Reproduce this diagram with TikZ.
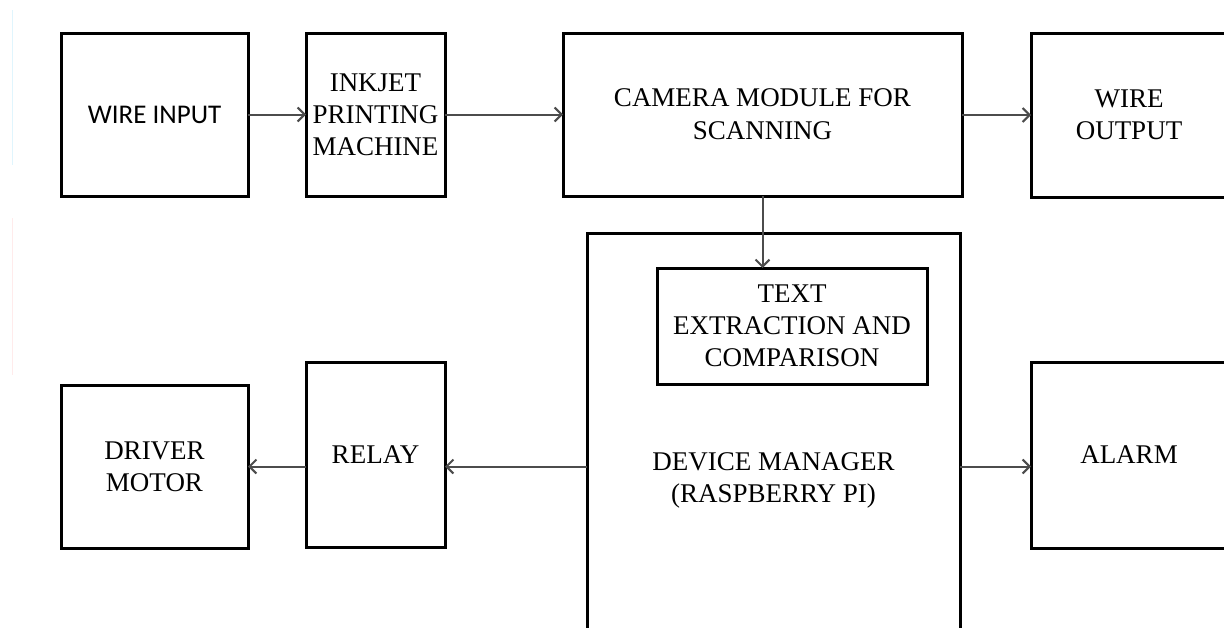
\documentclass[tikz,border=0pt]{standalone}
\usepackage{fontspec}
\setmainfont{Liberation Serif}
\newfontfamily\calibrifont{Carlito}
\usetikzlibrary{arrows.meta}
\begin{document}
\begin{tikzpicture}[x=1pt,y=-1pt,
  box/.style={draw=black, line width=3pt, align=center, inner sep=0pt, outer sep=0pt,
    font=\fontsize{27}{32}\selectfont},
  conn/.style={draw=black!70, line width=2pt, -{Straight Barb[length=7pt,width=14pt,line width=2pt]}}]
\useasboundingbox (0,0) rectangle (1224,627);
\clip (0,0) rectangle (1224,627);
\fill[white] (0,0) rectangle (1224,627);
% faint scan artifacts at left
\draw[cyan!12, line width=1pt] (12.5,10) -- (12.5,165);
\draw[red!8, line width=1pt] (12.5,218) -- (12.5,375);
% top row
\node[box, minimum width=187pt, minimum height=163pt, font=\calibrifont\fontsize{27}{32}\selectfont] (wi) at (154.5,114.5) {WIRE INPUT};
\node[box, minimum width=139pt, minimum height=163pt] (ink) at (375.5,114.5) {INKJET\\PRINTING\\MACHINE};
\node[box, minimum width=399pt, minimum height=163pt, font=\fontsize{27}{33}\selectfont] (cam) at (762.5,114.5) {CAMERA MODULE FOR\\SCANNING};
\node[box, minimum width=196pt, minimum height=164pt] (wo) at (1129,115) {WIRE\\OUTPUT};
% device manager
\node[box, minimum width=373pt, minimum height=494pt] (dm) at (773.5,480) {DEVICE MANAGER\\(RASPBERRY PI)};
\node[box, minimum width=270pt, minimum height=116pt] (txt) at (792,326) {TEXT\\EXTRACTION AND\\COMPARISON};
% bottom row
\node[box, minimum width=187pt, minimum height=163pt] (drv) at (154.5,466.5) {DRIVER\\MOTOR};
\node[box, minimum width=139pt, minimum height=185pt] (rel) at (375.5,454.5) {\raisebox{-11pt}{RELAY}};
\node[box, minimum width=196pt, minimum height=186pt] (al) at (1129,455) {ALARM};
% connectors
\draw[conn] (wi.east) -- (ink.west);
\draw[conn] (ink.east) -- (cam.west);
\draw[conn] (cam.east |- wo.west) -- (wo.west);
\draw[conn] (cam.south) -- (cam.south |- txt.north);
\draw[conn] (dm.west |- drv.east) -- (rel.east |- drv.east);
\draw[conn] (rel.west |- drv.east) -- (drv.east);
\draw[conn] (dm.east |- drv.east) -- (al.west |- drv.east);
\end{tikzpicture}
\end{document}
